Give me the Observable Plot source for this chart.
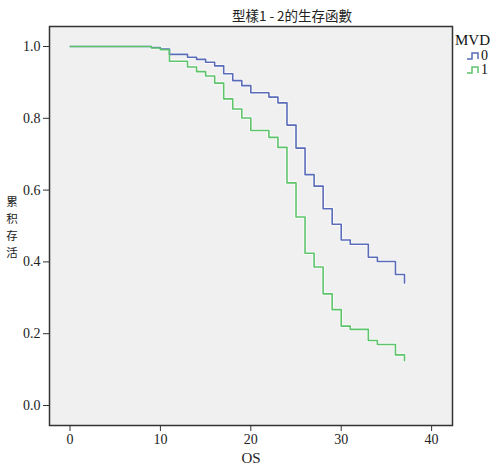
<!DOCTYPE html>
<html>
<head>
<meta charset="utf-8">
<script src="https://cdn.jsdelivr.net/npm/d3@7"></script>
<script src="https://cdn.jsdelivr.net/npm/@observablehq/plot@0.6"></script>
<style>
  body { margin: 0; background: #fff; }
  #wrap { position: relative; width: 493px; height: 474px; font-family: "Liberation Serif", "Times New Roman", serif; }
  #chart svg, #chart svg text { font-family: "Liberation Serif", "Times New Roman", serif !important; }
  #title { position: absolute; left: 0; width: 584px; top: 5px; text-align: center; font-family: "Noto Sans CJK TC", sans-serif; font-size: 13.5px; color: #222; }
  .yc { position: absolute; left: 4px; width: 16px; height: 12px; line-height: 12px; text-align: center; font-family: "Noto Sans CJK TC", sans-serif; font-size: 11.5px; color: #222; }
  #legend { position: absolute; left: 455px; top: 32px; font-size: 15px; color: #111; }
  #legend .item { display: flex; align-items: center; height: 14px; font-size: 14px; margin-left: 12px; }
  #legend svg { margin-right: 2px; }
</style>
</head>
<body>
<div id="wrap">
  <div id="chart"></div>
  <div id="title">型樣1 - 2的生存函數</div>
  <div id="legend"><div>MVD</div></div>
</div>
<script>
const groups = ["0", "1"];
const colors = ["#5a6cb8", "#5ec46c"];
const times = [0, 9, 10, 11, 13, 14, 15, 16, 17, 18, 19, 20, 22, 23, 24, 25, 26, 27, 28, 29, 30, 31, 33, 34, 36, 37];
const surv0 = [1, 0.997, 0.993, 0.978, 0.970, 0.964, 0.956, 0.946, 0.924, 0.905, 0.891, 0.871, 0.859, 0.843, 0.781, 0.717, 0.643, 0.611, 0.548, 0.505, 0.461, 0.449, 0.413, 0.401, 0.365, 0.341];
const surv1 = [1, 0.996, 0.991, 0.959, 0.943, 0.930, 0.918, 0.898, 0.854, 0.826, 0.801, 0.766, 0.747, 0.719, 0.620, 0.525, 0.424, 0.386, 0.311, 0.267, 0.221, 0.212, 0.181, 0.170, 0.141, 0.125];
const xTicks = [0, 10, 20, 30, 40];
const yTicks = [0, 0.2, 0.4, 0.6, 0.8, 1.0];
const yLabel = "累积存活";

const data = [];
times.forEach((t, i) => data.push({t, s: surv0[i], g: groups[0]}));
times.forEach((t, i) => data.push({t, s: surv1[i], g: groups[1]}));

const serif = "Liberation Serif";
const chart = Plot.plot({
  width: 493,
  height: 474,
  marginLeft: 49,
  marginRight: 41,
  marginTop: 26,
  marginBottom: 49,
  style: {fontFamily: serif, fontSize: "13px", color: "#222", background: "transparent"},
  x: {domain: [-2.27, 42.31]},
  y: {domain: [-0.0557, 1.0557]},
  color: {domain: groups, range: colors},
  marks: [
    Plot.frame({fill: "#f0f0f0"}),
    Plot.line(data, {x: "t", y: "s", z: "g", stroke: "white", strokeWidth: 3.2, strokeOpacity: 0.8, curve: "step-after"}),
    Plot.line(data, {x: "t", y: "s", z: "g", stroke: "g", strokeWidth: 1.6, curve: "step-after"}),
    Plot.frame({stroke: "#333", strokeWidth: 1.5}),
    Plot.axisX(xTicks, {tickSize: 6, tickPadding: 3, label: null, stroke: "#333", fontSize: 14, fontFamily: serif}),
    Plot.axisY(yTicks, {tickSize: 6, tickPadding: 3, label: null, stroke: "#333", fontSize: 14, fontFamily: serif, tickFormat: d3.format(".1f")}),
    Plot.text(["OS"], {frameAnchor: "bottom", dy: 37, fontSize: 15, fontFamily: serif})
  ]
});
document.getElementById("chart").appendChild(chart);

const wrap = document.getElementById("wrap");
Array.from(yLabel).forEach((ch, i) => {
  const d = document.createElement("div");
  d.className = "yc";
  d.style.top = (195 + i * 17) + "px";
  d.textContent = ch;
  wrap.appendChild(d);
});

const legend = document.getElementById("legend");
groups.forEach((g, i) => {
  const item = document.createElement("div");
  item.className = "item";
  item.innerHTML = `<svg width="12" height="10"><path d="M0,8H5V2H11V8" fill="none" stroke="${colors[i]}" stroke-width="1.5"/></svg><span>${g}</span>`;
  legend.appendChild(item);
});
</script>
</body>
</html>
